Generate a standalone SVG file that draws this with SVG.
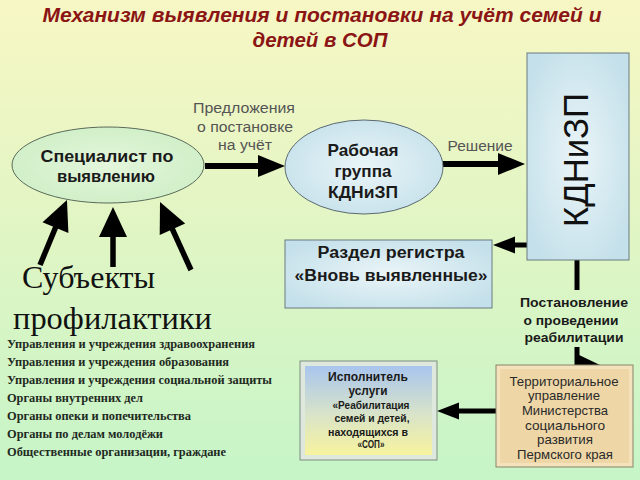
<svg xmlns="http://www.w3.org/2000/svg" width="640" height="480" viewBox="0 0 640 480">
<defs>
<linearGradient id="bg" x1="0" y1="0" x2="0" y2="1">
<stop offset="0" stop-color="#f7f7c4"/>
<stop offset="0.5" stop-color="#e0f5c4"/>
<stop offset="1" stop-color="#c6f5c8"/>
</linearGradient>
<radialGradient id="gGreen" cx="0.5" cy="0.5" r="0.6">
<stop offset="0" stop-color="#e4f6dc"/>
<stop offset="1" stop-color="#cdeec4"/>
</radialGradient>
<radialGradient id="gBlue" cx="0.5" cy="0.5" r="0.6">
<stop offset="0" stop-color="#eaf5f8"/>
<stop offset="1" stop-color="#c4e0ea"/>
</radialGradient>
<linearGradient id="gIsp" x1="0" y1="0" x2="0" y2="1">
<stop offset="0" stop-color="#a9c5ee"/>
<stop offset="0.55" stop-color="#d9e4c8"/>
<stop offset="1" stop-color="#f7f39e"/>
</linearGradient>
<marker id="big" markerUnits="userSpaceOnUse" viewBox="-12 -15 44 30" refX="0" refY="0" markerWidth="44" markerHeight="30" orient="auto">
<path d="M-10,-14 L20,0 L-10,14 z" fill="#000"/>
</marker>
<marker id="mid" markerUnits="userSpaceOnUse" viewBox="-12 -13 40 26" refX="0" refY="0" markerWidth="40" markerHeight="26" orient="auto">
<path d="M-7,-11 L20,0 L-7,11 z" fill="#000"/>
</marker>
<marker id="sm" markerUnits="userSpaceOnUse" viewBox="-6 -10 30 20" refX="0" refY="0" markerWidth="30" markerHeight="20" orient="auto">
<path d="M-4,-8.5 L18,0 L-4,8.5 z" fill="#000"/>
</marker>
<style>
.sans{font-family:"Liberation Sans",Arial,sans-serif}
.serif{font-family:"Liberation Serif","Times New Roman",serif}
.title{font-weight:bold;font-style:italic;font-size:20px;fill:#8b1414}
.lbl{font-size:14px;fill:#555}
.nb{font-weight:bold;fill:#1a1a1a}
.ln{stroke:#000;fill:none}
.list{font-weight:bold;font-size:12.5px;fill:#1f2a1f}
</style>
</defs>
<rect x="0" y="0" width="640" height="480" fill="url(#bg)"/>
<g id="title" class="sans title" text-anchor="middle">
<text x="322" y="22" textLength="559" lengthAdjust="spacingAndGlyphs">Механизм выявления и постановки на учёт семей и</text>
<text x="320" y="47" textLength="135" lengthAdjust="spacingAndGlyphs">детей в СОП</text>
</g>
<g id="connectors">
<line class="ln" x1="205" y1="166" x2="265" y2="166" stroke-width="6" marker-end="url(#mid)"/>
<line class="ln" x1="443" y1="164" x2="505" y2="164" stroke-width="6" marker-end="url(#mid)"/>
<line class="ln" x1="527" y1="245" x2="511" y2="245" stroke-width="5" marker-end="url(#sm)"/>
<line class="ln" x1="40" y1="265" x2="59.3" y2="218.5" stroke-width="5.5" marker-end="url(#big)"/>
<line class="ln" x1="113" y1="267" x2="113" y2="227" stroke-width="5.5" marker-end="url(#big)"/>
<line class="ln" x1="191" y1="270" x2="168.3" y2="220.2" stroke-width="5.5" marker-end="url(#big)"/>
<line class="ln" x1="577" y1="260" x2="577" y2="290" stroke-width="5"/>
<line class="ln" x1="577" y1="347" x2="577" y2="365" stroke-width="5"/>
<polygon points="577,354 600,365 577,376" fill="#000"/>
<line class="ln" x1="496" y1="411" x2="455" y2="411" stroke-width="5" marker-end="url(#sm)"/>
</g>
<g id="conn-labels" class="sans lbl" text-anchor="middle">
<text x="244" y="113" textLength="102" lengthAdjust="spacingAndGlyphs">Предложения</text>
<text x="245" y="132" textLength="96" lengthAdjust="spacingAndGlyphs">о постановке</text>
<text x="245" y="150" textLength="54" lengthAdjust="spacingAndGlyphs">на учёт</text>
<text x="480" y="151" textLength="65" lengthAdjust="spacingAndGlyphs">Решение</text>
</g>
<g id="spec">
<ellipse cx="108" cy="165" rx="96" ry="38" fill="url(#gGreen)" stroke="#5a6a5a" stroke-width="1"/>
<g class="sans nb" font-size="16" text-anchor="middle">
<text x="107" y="162" textLength="133" lengthAdjust="spacingAndGlyphs">Специалист по</text>
<text x="106" y="182" textLength="98" lengthAdjust="spacingAndGlyphs">выявлению</text>
</g>
</g>
<g id="workgroup">
<ellipse cx="364" cy="167" rx="79" ry="47" fill="url(#gBlue)" stroke="#5a6a70" stroke-width="1"/>
<g class="sans nb" font-size="17" text-anchor="middle">
<text x="363" y="156" textLength="71" lengthAdjust="spacingAndGlyphs">Рабочая</text>
<text x="363" y="177" textLength="57" lengthAdjust="spacingAndGlyphs">группа</text>
<text x="363" y="198" textLength="70" lengthAdjust="spacingAndGlyphs">КДНиЗП</text>
</g>
</g>
<g id="kdnizp">
<rect x="527" y="53" width="102" height="207" fill="url(#gBlue)" stroke="#6a7a80" stroke-width="1"/>
<text class="sans" font-size="35" fill="#111" text-anchor="middle" transform="translate(588,160) rotate(-90)" textLength="134" lengthAdjust="spacingAndGlyphs">КДНиЗП</text>
</g>
<g id="register">
<rect x="285" y="240" width="207" height="68" fill="url(#gBlue)" stroke="#6a7a80" stroke-width="1"/>
<g class="sans nb" font-size="16" text-anchor="middle">
<text x="391" y="258" textLength="147" lengthAdjust="spacingAndGlyphs">Раздел регистра</text>
<text x="391" y="281" textLength="193" lengthAdjust="spacingAndGlyphs">«Вновь выявленные»</text>
</g>
</g>
<g id="decree" class="sans nb" font-size="13.5" fill="#2a2a2a" text-anchor="middle">
<text x="574" y="307" textLength="108" lengthAdjust="spacingAndGlyphs">Постановление</text>
<text x="571" y="325" textLength="95" lengthAdjust="spacingAndGlyphs">о проведении</text>
<text x="574" y="342" textLength="99" lengthAdjust="spacingAndGlyphs">реабилитации</text>
</g>
<g id="subjects">
<text class="serif" x="22" y="288" font-size="32" fill="#111" textLength="133" lengthAdjust="spacingAndGlyphs">Субъекты</text>
<text class="serif" x="13" y="329" font-size="32" fill="#111" textLength="199" lengthAdjust="spacingAndGlyphs">профилактики</text>
<g class="serif list">
<text x="7" y="348" textLength="248" lengthAdjust="spacingAndGlyphs">Управления и учреждения здравоохранения</text>
<text x="7" y="366" textLength="222" lengthAdjust="spacingAndGlyphs">Управления и учреждения образования</text>
<text x="7" y="384" textLength="265" lengthAdjust="spacingAndGlyphs">Управления и учреждения социальной защиты</text>
<text x="7" y="402" textLength="136" lengthAdjust="spacingAndGlyphs">Органы внутренних дел</text>
<text x="7" y="420" textLength="184" lengthAdjust="spacingAndGlyphs">Органы опеки и попечительства</text>
<text x="7" y="438" textLength="156" lengthAdjust="spacingAndGlyphs">Органы по делам молодёжи</text>
<text x="7" y="456" textLength="219" lengthAdjust="spacingAndGlyphs">Общественные организации, граждане</text>
</g>
</g>
<g id="executor">
<rect x="300" y="361" width="137" height="99" fill="#dfe8dc" stroke="#7d8d80" stroke-width="1"/>
<rect x="305" y="366" width="127" height="89" fill="url(#gIsp)"/>
<g class="sans nb" text-anchor="middle" fill="#202020">
<text x="368" y="381" font-size="12" textLength="80" lengthAdjust="spacingAndGlyphs">Исполнитель</text>
<text x="368" y="395" font-size="12" textLength="39" lengthAdjust="spacingAndGlyphs">услуги</text>
<text x="371" y="409" font-size="10" textLength="77" lengthAdjust="spacingAndGlyphs">«Реабилитация</text>
<text x="372" y="422" font-size="10" textLength="75" lengthAdjust="spacingAndGlyphs">семей и детей,</text>
<text x="368" y="436" font-size="10" textLength="80" lengthAdjust="spacingAndGlyphs">находящихся в</text>
<text x="371" y="448" font-size="10" textLength="27" lengthAdjust="spacingAndGlyphs">«СОП»</text>
</g>
</g>
<g id="territorial">
<rect x="496" y="365" width="137" height="102" fill="#f3e2bc" stroke="#8a8468" stroke-width="1"/>
<rect x="500" y="369" width="129" height="94" fill="#eed6a6"/>
<g class="sans" font-size="13" fill="#2a2a2a" text-anchor="middle">
<text x="564" y="386" textLength="109" lengthAdjust="spacingAndGlyphs">Территориальное</text>
<text x="564" y="400" textLength="72" lengthAdjust="spacingAndGlyphs">управление</text>
<text x="565" y="415" textLength="86" lengthAdjust="spacingAndGlyphs">Министерства</text>
<text x="565" y="430" textLength="80" lengthAdjust="spacingAndGlyphs">социального</text>
<text x="565" y="444" textLength="56" lengthAdjust="spacingAndGlyphs">развития</text>
<text x="565" y="459" textLength="96" lengthAdjust="spacingAndGlyphs">Пермского края</text>
</g>
</g>
</svg>
